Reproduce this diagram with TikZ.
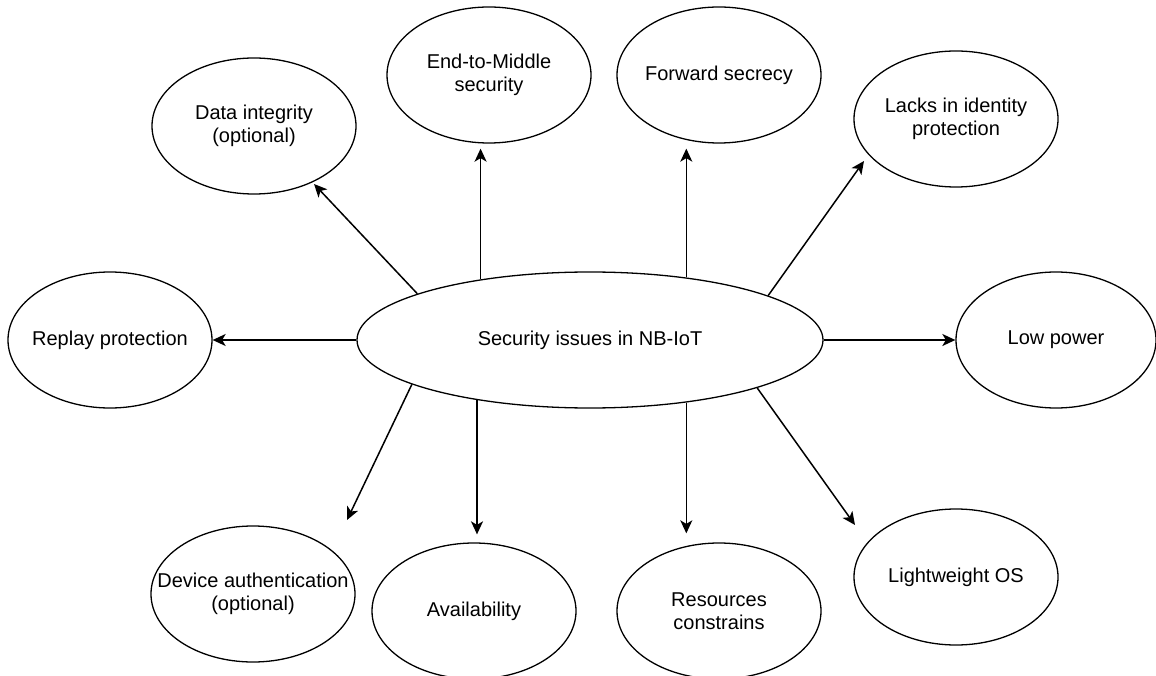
\documentclass[tikz,border=0pt]{standalone}
\usepackage{fontspec}
\setmainfont{Liberation Sans}
\usetikzlibrary{arrows.meta,shapes.geometric}
\begin{document}
\begin{tikzpicture}[x=1pt,y=-1pt,
  bub/.style={draw, ellipse, line width=1.3pt, minimum width=204pt,
    minimum height=136pt, inner sep=0pt},
  every label/.style={align=center, font=\fontsize{20}{23}\selectfont, inner sep=0pt},
  arr/.style={line width=1.5pt, -{Stealth[length=13pt,width=12pt,inset=3.5pt]}}]
\useasboundingbox (0,0) rectangle (1156,676);

% central issue
\node[bub, minimum width=466pt, label=center:Security issues in NB-IoT] (c) at (590,340) {};

% upper row
\node[bub, label=center:Data integrity\\(optional)] (di) at (254,126) {};
\node[bub, label=center:End-to-Middle\\security] (e2m) at (489,75) {};
\node[bub, label=center:Forward secrecy] (fs) at (719,75) {};
\node[bub, label=center:Lacks in identity\\protection] (lip) at (956,119) {};

% middle row
\node[bub, label=center:Replay protection] (rp) at (110,340) {};
\node[bub, minimum width=200pt, label=center:Low power] (lp) at (1056,340) {};

% lower row
\node[bub, label=center:Device authentication\\(optional)] (da) at (253,594) {};
\node[bub, label=center:Availability] (av) at (474,611) {};
\node[bub, label=center:Resources\\constrains] (rc) at (719,611) {};
\node[bub, label=center:Lightweight OS] (lw) at (956,577) {};

% free arrow ends
\coordinate (t-di) at (314,184);
\coordinate (t-lip) at (864,161);
\coordinate (t-da) at (347,520);
\coordinate (t-lw) at (855,525);

% connectors
\draw[arr, shorten >=5pt] (c.151) -- (c.151 |- e2m.south);
\draw[arr, shorten >=5pt] (c.33) -- (c.33 |- fs.south);
\draw[arr] (c.165) -- (t-di);
\draw[arr] (c.14) -- (t-lip);
\draw[arr] (c.west) -- (rp.east);
\draw[arr] (c.east) -- (lp.west);
\draw[arr] (c.194) -- (t-da);
\draw[arr, shorten >=8pt] (c.208) -- (c.208 |- av.north);
\draw[arr, shorten >=9pt] (c.327) -- (c.327 |- rc.north);
\draw[arr] (c.344) -- (t-lw);
\end{tikzpicture}
\end{document}
